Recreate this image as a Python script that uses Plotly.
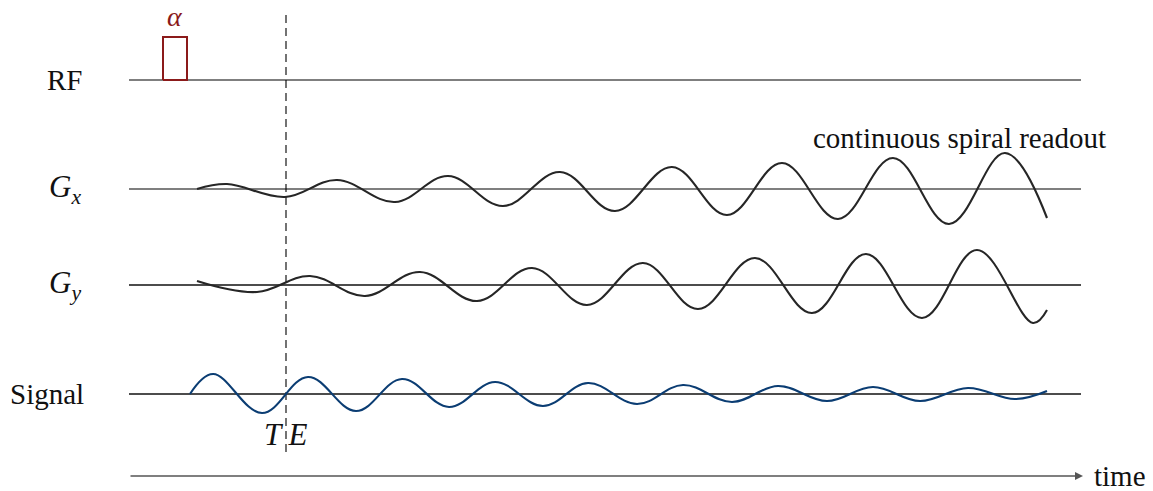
import plotly.graph_objects as go

# ---- Data (time units: 0 = start of time axis; amplitude relative to each lane baseline) ----
lane_names = ["RF", "<i>G</i><sub><i>x</i></sub>", "<i>G</i><sub><i>y</i></sub>", "Signal"]
lane_baselines = [-8.0, -18.9, -28.5, -39.4]
time_axis_level = -47.6
time_axis_end = 95.4
baseline_end = 95.2

rf_pulse_start = 3.4
rf_pulse_end = 5.8
rf_pulse_height = 4.3

te_time = 15.7
te_line_top = -1.5
te_line_bottom = -45.6

# extrema of the gradient / signal waveforms
gx_t = [6.8, 9.8, 15.6, 20.8, 26.6, 31.9, 37.4, 43.1, 48.6, 54.3, 59.8, 65.3, 70.9, 76.4,
        82.0, 87.6, 91.8]
gx_a = [0.0, 0.5, -0.8, 0.9, -1.3, 1.3, -1.7, 1.7, -2.2, 2.2, -2.6, 2.6, -3.0, 3.1,
        -3.5, 3.6, -2.9]

gy_t = [6.8, 12.8, 18.1, 23.6, 29.1, 34.8, 40.3, 45.8, 51.4, 56.9, 62.6, 68.3, 73.7, 79.3,
        84.8, 90.4, 91.8]
gy_a = [0.4, -0.7, 0.9, -1.1, 1.3, -1.6, 1.7, -2.0, 2.2, -2.4, 2.7, -2.8, 3.1, -3.3,
        3.5, -3.8, -2.5]

sig_t = [6.1, 8.4, 13.3, 17.9, 22.7, 27.3, 32.0, 36.6, 41.4, 45.9, 50.8, 55.4, 60.3, 64.9,
         69.8, 74.4, 79.1, 83.9, 88.6, 91.8]
sig_a = [0.0, 2.0, -1.9, 1.7, -1.7, 1.5, -1.3, 1.2, -1.2, 1.1, -1.0, 0.9, -0.8, 0.8,
         -0.7, 0.7, -0.7, 0.6, -0.5, 0.3]

# ---- Styles ----
FONT = "Liberation Serif"
WAVE = "#262626"
SIG = "#0b3d73"
RFC = "#8b1a1a"
baseline_colors = ["#555555", "#555555", "#111111", "#111111"]
SMOOTH = 1.1

fig = go.Figure()

# baselines
for base, col in zip(lane_baselines, baseline_colors):
    fig.add_trace(go.Scatter(x=[0, baseline_end], y=[base, base], mode="lines",
                             line=dict(color=col, width=1.3), hoverinfo="skip"))

# TE dashed line
fig.add_trace(go.Scatter(x=[te_time, te_time], y=[te_line_top, te_line_bottom], mode="lines",
                         line=dict(color="#000000", width=1.1, dash="8px,5px"), hoverinfo="skip"))

# RF pulse
rf_base = lane_baselines[0]
fig.add_trace(go.Scatter(
    x=[rf_pulse_start, rf_pulse_start, rf_pulse_end, rf_pulse_end, rf_pulse_start],
    y=[rf_base, rf_base + rf_pulse_height, rf_base + rf_pulse_height, rf_base, rf_base],
    mode="lines", line=dict(color=RFC, width=2), hoverinfo="skip"))

# gradients
fig.add_trace(go.Scatter(x=gx_t, y=[lane_baselines[1] + a for a in gx_a], mode="lines",
                         line=dict(color=WAVE, width=2.1, shape="spline", smoothing=SMOOTH)))
fig.add_trace(go.Scatter(x=gy_t, y=[lane_baselines[2] + a for a in gy_a], mode="lines",
                         line=dict(color=WAVE, width=2.1, shape="spline", smoothing=SMOOTH)))
# signal
fig.add_trace(go.Scatter(x=sig_t, y=[lane_baselines[3] + a for a in sig_a], mode="lines",
                         line=dict(color=SIG, width=2.1, shape="spline", smoothing=SMOOTH)))

annotations = []
# lane labels
label_x = [-6.5, -6.4, -6.4, -8.2]
label_sizes = [29, 31, 31, 29]
for name, base, lx, fs in zip(lane_names, lane_baselines, label_x, label_sizes):
    annotations.append(dict(x=lx, y=base, text=name, showarrow=False, xanchor="center",
                            yanchor="middle", font=dict(family=FONT, size=fs, color="#111111")))

# time axis arrow
annotations.append(dict(x=time_axis_end, y=time_axis_level, ax=0, ay=time_axis_level,
                        xref="x", yref="y", axref="x", ayref="y", text="", showarrow=True,
                        arrowhead=2, arrowsize=1.0, arrowwidth=1.6, arrowcolor="#555555",
                        standoff=0, startstandoff=0))
annotations.append(dict(x=96.3, y=time_axis_level, text="time", showarrow=False,
                        xanchor="left", yanchor="middle",
                        font=dict(family=FONT, size=29, color="#111111")))
annotations.append(dict(x=83.0, y=-13.8, text="continuous spiral readout", showarrow=False,
                        xanchor="center", yanchor="middle",
                        font=dict(family=FONT, size=29, color="#111111")))
annotations.append(dict(x=te_time - 0.1, y=-43.4, text="<i>T E</i>", showarrow=False,
                        xanchor="center", yanchor="middle",
                        font=dict(family=FONT, size=31, color="#111111")))
annotations.append(dict(x=4.6, y=-1.6, text="<i>α</i>", showarrow=False,
                        xanchor="center", yanchor="middle",
                        font=dict(family=FONT, size=28, color=RFC)))

fig.update_layout(
    width=1153, height=491,
    margin=dict(l=0, r=0, t=0, b=0),
    paper_bgcolor="white", plot_bgcolor="white",
    showlegend=False,
    xaxis=dict(range=[-12.9, 102.4], visible=False, fixedrange=True),
    yaxis=dict(range=[-49.1, 0], visible=False, fixedrange=True),
    annotations=annotations,
)

fig.write_html("out.html", config={"displayModeBar": False},
               post_script="document.body.style.margin='0px';document.body.style.overflow='hidden';")
